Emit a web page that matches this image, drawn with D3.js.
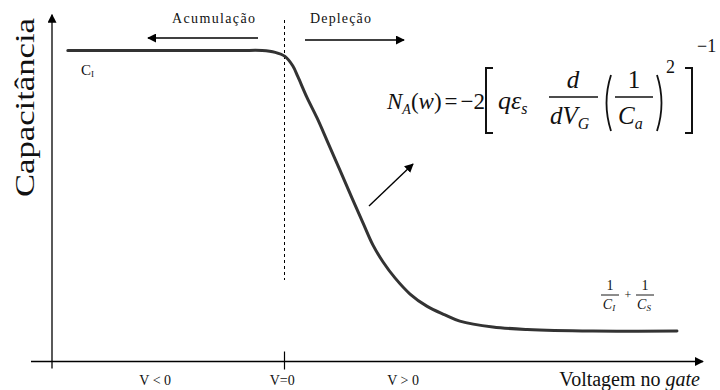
<!DOCTYPE html>
<html>
<head>
<meta charset="utf-8">
<script src="https://cdn.jsdelivr.net/npm/d3@7"></script>
<style>
  html, body { margin: 0; padding: 0; background: #fff; }
  svg { display: block; }
</style>
</head>
<body>
<svg id="chart" width="720" height="390"></svg>
<script>
// Gate voltage (arbitrary units) and normalised capacitance of the C–V curve
const voltage = [-4.66, -2.89, -0.96, -0.48, -0.20, 0.01, 0.18, 0.29, 0.48, 0.70, 0.91,
                 1.19, 1.45, 1.69, 1.90, 2.12, 2.38, 2.70, 3.06, 3.45, 3.77, 4.48, 5.22, 6.63, 8.44];
const capacitance = [1.000, 1.000, 1.000, 1.000, 0.994, 0.981, 0.950, 0.915, 0.850, 0.783, 0.712,
                     0.616, 0.526, 0.445, 0.375, 0.320, 0.268, 0.217, 0.178, 0.150, 0.130, 0.111, 0.103, 0.098, 0.098];

// Region labels under the voltage axis
const tickLabels = ["V < 0", "V=0", "V > 0"];
const tickValues = [-2.78, -0.05, 2.55];

const SERIF = "'Liberation Serif', 'Times New Roman', 'DejaVu Serif', serif";

const svg = d3.select("#chart")
  .attr("font-family", SERIF)
  .style("font-family", SERIF);

const x = d3.scaleLinear().domain([-5, 9]).range([52, 703]);
const y = d3.scaleLinear().domain([0, 1]).range([361.5, 50.5]);

// arrowhead marker
svg.append("defs").append("marker")
  .attr("id", "head")
  .attr("viewBox", "0 0 10 10")
  .attr("refX", 9).attr("refY", 5)
  .attr("markerWidth", 9).attr("markerHeight", 9)
  .attr("markerUnits", "userSpaceOnUse")
  .attr("orient", "auto")
  .append("path").attr("d", "M0,0 L10,5 L0,10 Z").attr("fill", "#000");

function txt(parent) {
  return parent.append("text").attr("font-family", SERIF).attr("fill", "#111");
}

// axes
svg.append("line")
  .attr("x1", x(-5)).attr("x2", x(-5))
  .attr("y1", y(0) + 7).attr("y2", y(1.115))
  .attr("stroke", "#000").attr("stroke-width", 1.3)
  .attr("marker-end", "url(#head)");
svg.append("line")
  .attr("x1", x(-5) - 21).attr("x2", x(9))
  .attr("y1", y(0)).attr("y2", y(0))
  .attr("stroke", "#000").attr("stroke-width", 1.3)
  .attr("marker-end", "url(#head)");

// tick at V = 0
svg.append("line")
  .attr("x1", x(0)).attr("x2", x(0))
  .attr("y1", y(0) - 10).attr("y2", y(0) + 8)
  .attr("stroke", "#000").attr("stroke-width", 1.2);

// V = 0 boundary between accumulation and depletion
svg.append("line")
  .attr("x1", x(0)).attr("x2", x(0))
  .attr("y1", 20).attr("y2", 280)
  .attr("stroke", "#000").attr("stroke-width", 1)
  .attr("stroke-dasharray", "3,3");

// tick labels
svg.selectAll(".tl").data(tickLabels).join("text")
  .attr("class", "tl")
  .attr("font-family", SERIF).attr("fill", "#111")
  .attr("x", (d, i) => x(tickValues[i]))
  .attr("y", 385)
  .attr("text-anchor", "middle")
  .attr("font-size", 14)
  .text(d => d);

// axis titles
txt(svg)
  .attr("transform", "translate(34,197) rotate(-90)")
  .attr("font-size", 27)
  .attr("textLength", 179)
  .attr("lengthAdjust", "spacingAndGlyphs")
  .text("Capacitância");

const xt = txt(svg)
  .attr("x", 700).attr("y", 386)
  .attr("text-anchor", "end")
  .attr("font-size", 20);
xt.append("tspan").text("Voltagem no ");
xt.append("tspan").attr("font-style", "italic").text("gate");

// C–V curve
const line = d3.line()
  .x((d, i) => x(voltage[i]))
  .y(d => y(d))
  .curve(d3.curveCatmullRom.alpha(0.5));
svg.append("path")
  .datum(capacitance)
  .attr("d", line)
  .attr("fill", "none")
  .attr("stroke", "#333")
  .attr("stroke-width", 3)
  .attr("stroke-linecap", "round");

// accumulation / depletion labels with direction arrows
txt(svg)
  .attr("x", 172).attr("y", 23)
  .attr("font-size", 14)
  .attr("textLength", 83)
  .attr("lengthAdjust", "spacing")
  .text("Acumulação");
svg.append("line")
  .attr("x1", 258).attr("y1", 38).attr("x2", 148).attr("y2", 38)
  .attr("stroke", "#000").attr("stroke-width", 1.3)
  .attr("marker-end", "url(#head)");

txt(svg)
  .attr("x", 310).attr("y", 23)
  .attr("font-size", 14)
  .attr("textLength", 61)
  .attr("lengthAdjust", "spacing")
  .text("Depleção");
svg.append("line")
  .attr("x1", 305).attr("y1", 40).attr("x2", 404).attr("y2", 40)
  .attr("stroke", "#000").attr("stroke-width", 1.3)
  .attr("marker-end", "url(#head)");

// C_I label on the plateau
const ci = txt(svg).attr("x", 81).attr("y", 75).attr("font-size", 15);
ci.append("tspan").text("C");
ci.append("tspan").attr("font-size", 9).attr("dy", 2).text("I");

// 1/C_I + 1/C_S label
function frac(cx, num, den, sub) {
  const g = svg.append("g");
  txt(g).attr("x", cx).attr("y", 290).attr("text-anchor", "middle")
    .attr("font-size", 14).text(num);
  g.append("line").attr("x1", cx - 9).attr("x2", cx + 9).attr("y1", 295).attr("y2", 295)
    .attr("stroke", "#000").attr("stroke-width", 0.9);
  const t = txt(g).attr("x", cx - 1).attr("y", 309).attr("text-anchor", "middle")
    .attr("font-size", 14).attr("font-style", "italic");
  t.append("tspan").text(den);
  t.append("tspan").attr("font-size", 9).attr("dy", 2).text(sub);
}
frac(610, "1", "C", "I");
txt(svg).attr("x", 628).attr("y", 299).attr("text-anchor", "middle")
  .attr("font-size", 12).text("+");
frac(645, "1", "C", "S");

// arrow pointing at the doping-profile formula
svg.append("line")
  .attr("x1", 369).attr("y1", 206).attr("x2", 413).attr("y2", 164)
  .attr("stroke", "#000").attr("stroke-width", 1.4)
  .attr("marker-end", "url(#head)");

// N_A(w) = -2 [ q eps_s d/dV_G (1/C_a)^2 ]^-1
const fs = 25, base = 109;
const m = txt(svg).attr("x", 387).attr("y", base).attr("font-size", 23);
m.append("tspan").attr("font-style", "italic").text("N");
m.append("tspan").attr("font-style", "italic").attr("font-size", 14).attr("dy", 5).text("A");
m.append("tspan").attr("dy", -5).text("(");
m.append("tspan").attr("font-style", "italic").text("w");
m.append("tspan").text(")");
m.append("tspan").attr("dx", 3).text("=");
m.append("tspan").attr("dx", 3).text("−2");

// square brackets
function bracket(x0, open) {
  const w = open ? 7 : -7;
  svg.append("path")
    .attr("d", `M${x0 + w},68 L${x0},68 L${x0},133 L${x0 + w},133`)
    .attr("fill", "none").attr("stroke", "#111").attr("stroke-width", 2);
}
bracket(486, true);
bracket(692, false);

const q = txt(svg).attr("x", 498).attr("y", base).attr("font-size", fs + 1);
q.append("tspan").attr("font-style", "italic").text("qε");
q.append("tspan").attr("font-style", "italic").attr("font-size", 16).attr("dy", 5).text("s");

// d / dV_G
txt(svg).attr("x", 573).attr("y", 88).attr("text-anchor", "middle")
  .attr("font-size", fs).attr("font-style", "italic").text("d");
svg.append("line").attr("x1", 549).attr("x2", 598).attr("y1", 97).attr("y2", 97)
  .attr("stroke", "#111").attr("stroke-width", 1.3);
const dv = txt(svg).attr("x", 550).attr("y", 124)
  .attr("font-size", fs).attr("font-style", "italic");
dv.append("tspan").text("dV");
dv.append("tspan").attr("font-size", 16).attr("dy", 5).text("G");

// ( 1 / C_a )
function paren(x0, open) {
  const b = open ? -9 : 9;
  svg.append("path")
    .attr("d", `M${x0},75 Q${x0 + b},103 ${x0},131`)
    .attr("fill", "none").attr("stroke", "#111").attr("stroke-width", 1.8);
}
paren(611, true);
paren(657, false);
txt(svg).attr("x", 634).attr("y", 88).attr("text-anchor", "middle")
  .attr("font-size", fs).text("1");
svg.append("line").attr("x1", 615).attr("x2", 653).attr("y1", 97).attr("y2", 97)
  .attr("stroke", "#111").attr("stroke-width", 1.3);
const ca = txt(svg).attr("x", 618).attr("y", 124)
  .attr("font-size", fs).attr("font-style", "italic");
ca.append("tspan").text("C");
ca.append("tspan").attr("font-size", 16).attr("dy", 5).text("a");

txt(svg).attr("x", 666).attr("y", 73).attr("font-size", 18).text("2");
txt(svg).attr("x", 697).attr("y", 52).attr("font-size", 18).text("−1");
</script>
</body>
</html>
